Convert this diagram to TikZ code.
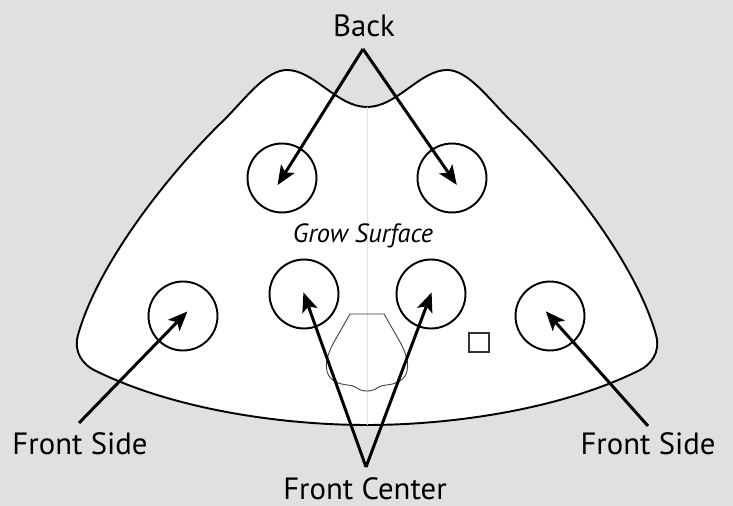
\documentclass[tikz,border=0pt]{standalone}
\usepackage{fontspec}
\setmainfont{PT Sans}
\usetikzlibrary{arrows.meta}
\definecolor{bggray}{RGB}{224,224,224}

\begin{document}
\begin{tikzpicture}
        [x=0.02cm, y=-0.02cm,
         pot_style/.style={circle,draw=black,line width=1.1pt,minimum size=1.38cm,inner sep=0pt},
         label_style/.style={font=\fontsize{17.5}{20}\selectfont,inner sep=0pt},
         grow_style/.style={font=\fontsize{15}{17}\selectfont\itshape,inner sep=0pt},
         outline_style/.style={draw=black,line width=1.1pt,fill=white,line join=round},
         cover_style/.style={draw=black!75,line width=0.5pt},
         edge_style/.style={draw=black,line width=1.7pt,-{Stealth[length=11pt,width=9pt,inset=2.5pt]}}]
            \useasboundingbox (0,0) rectangle (733,506);
            \fill[bggray] (0,0) rectangle (733,506);
            % tray outline
            \draw[outline_style] (367,107) .. controls (397,107) and (420,70) .. (447,70)
                .. controls (468,70) and (488,98) .. (510,120)
                .. controls (560,168) and (635,260) .. (656,335)
                .. controls (661,353) and (650,365) .. (640,370)
                .. controls (560,410) and (450,425) .. (367,425)
                .. controls (284,425) and (174,410) .. (94,370)
                .. controls (84,365) and (73,353) .. (78,335)
                .. controls (99,260) and (174,168) .. (224,120)
                .. controls (246,98) and (266,70) .. (287,70)
                .. controls (314,70) and (337,107) .. (367,107) -- cycle;
            \draw[black!12,line width=0.3pt] (367,107) -- (367,425);
            \draw[cover_style] (350,314) -- (384,314) -- (400,342)
                .. controls (410,360) and (411,376) .. (398,382)
                .. controls (390,386) and (382,384) .. (377,388)
                .. controls (372,392) and (362,392) .. (357,388)
                .. controls (352,384) and (344,386) .. (336,382)
                .. controls (323,376) and (324,360) .. (334,342) -- cycle;
            \draw[black!80,line width=0.6pt] (469,333) rectangle (489,352);
            % pots
            \node[pot_style] (back_l) at (282,178) {};
            \node[pot_style] (back_r) at (452,178) {};
            \node[pot_style] (center_l) at (304,294) {};
            \node[pot_style] (center_r) at (431,294) {};
            \node[pot_style] (side_l) at (183,316) {};
            \node[pot_style] (side_r) at (550,316) {};
            % labels
            \node[label_style] (back_lbl) at (364,26) {Back};
            \node[label_style] (side_l_lbl) at (80,444) {Front Side};
            \node[label_style] (side_r_lbl) at (648,444) {Front Side};
            \node[label_style] (center_lbl) at (365,489) {Front Center};
            \node[grow_style] (grow_lbl) at (363,236) {Grow Surface};
            \coordinate (back_apex) at (363,49);
            \coordinate (center_apex) at (366,467);
            \coordinate (side_l_tail) at (79,423);
            \coordinate (side_r_tail) at (648,426);
            % arrows
            \draw[edge_style,shorten >=-4.8pt]  (back_apex) -- (back_l.center);
            \draw[edge_style,shorten >=-4.8pt]  (back_apex) -- (back_r.center);
            \draw[edge_style,shorten >=-1pt]  (center_apex) -- (center_l.center);
            \draw[edge_style,shorten >=-1pt]  (center_apex) -- (center_r.center);
            \draw[edge_style,shorten >=-3.6pt]  (side_l_tail) -- (side_l.center);
            \draw[edge_style,shorten >=-3.6pt]  (side_r_tail) -- (side_r.center);
        \end{tikzpicture}
\end{document}
